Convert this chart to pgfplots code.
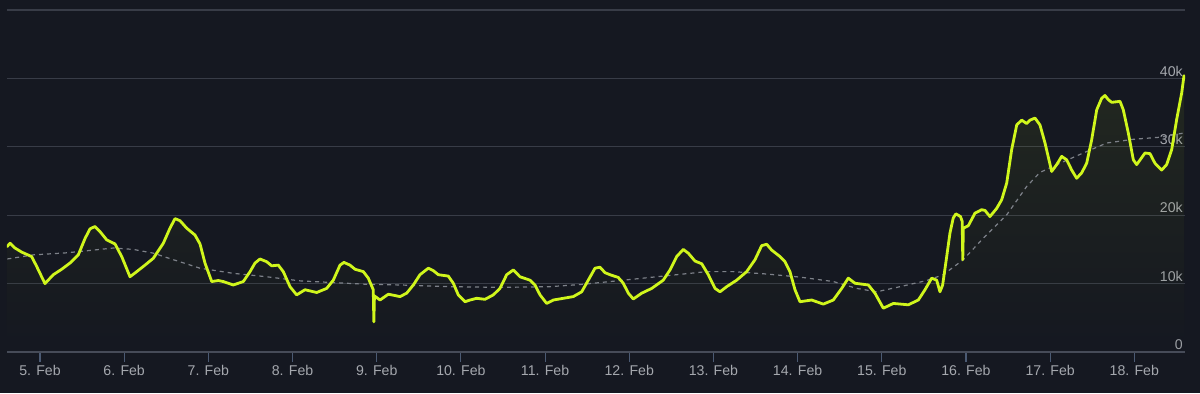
\documentclass[border=0pt]{standalone}
\usepackage{fontspec}
\setmainfont{Liberation Sans}
\usepackage{pgfplots}
\usepackage{pgfplotstable}
\pgfplotsset{compat=1.18}
\definecolor{bg}{RGB}{21,24,33}
\definecolor{gridc}{RGB}{56,60,71}
\definecolor{axisc}{RGB}{70,75,88}
\definecolor{tickc}{RGB}{75,90,115}
\definecolor{lbl}{RGB}{165,168,174}
\definecolor{lime}{RGB}{208,246,28}
\definecolor{avgc}{RGB}{125,129,137}

\pgfplotstableread{
x y
4.608 15.4
4.644 15.9
4.703 15.2
4.783 14.6
4.901 13.95
4.961 12.5
5.059 10.0
5.158 11.3
5.258 12.1
5.356 13.0
5.455 14.2
5.535 16.6
5.594 18.0
5.653 18.35
5.713 17.6
5.792 16.4
5.891 15.8
5.971 13.95
6.069 11.0
6.149 11.75
6.247 12.7
6.346 13.7
6.465 15.9
6.544 18.1
6.604 19.5
6.663 19.2
6.743 18.1
6.841 17.1
6.901 15.8
6.960 13.0
7.040 10.3
7.118 10.45
7.177 10.3
7.296 9.8
7.415 10.3
7.495 11.75
7.554 13.0
7.613 13.6
7.693 13.2
7.752 12.6
7.831 12.7
7.890 11.75
7.970 9.55
8.049 8.35
8.148 9.1
8.287 8.7
8.406 9.3
8.484 10.5
8.564 12.7
8.611 13.1
8.683 12.7
8.742 12.1
8.841 11.75
8.900 10.8
8.959 9.1
8.966 4.4
8.973 8.2
9.039 7.6
9.138 8.45
9.277 8.1
9.356 8.6
9.435 9.8
9.514 11.3
9.613 12.25
9.672 11.9
9.732 11.3
9.850 11.1
9.910 10.05
9.969 8.35
10.049 7.35
10.108 7.6
10.188 7.85
10.286 7.7
10.385 8.35
10.464 9.3
10.544 11.3
10.623 12.0
10.702 11.0
10.821 10.5
10.880 9.8
10.940 8.35
11.019 7.1
11.098 7.6
11.217 7.85
11.335 8.1
11.435 8.8
11.513 10.5
11.593 12.25
11.652 12.4
11.712 11.6
11.771 11.3
11.870 10.9
11.929 10.05
11.989 8.6
12.048 7.75
12.148 8.6
12.267 9.3
12.404 10.5
12.484 12.0
12.563 13.95
12.642 15.0
12.701 14.45
12.781 13.3
12.861 12.9
12.939 11.3
13.019 9.3
13.078 8.8
13.157 9.55
13.276 10.5
13.395 11.75
13.494 13.5
13.573 15.55
13.633 15.75
13.692 14.9
13.791 13.95
13.850 13.2
13.909 11.75
13.969 9.1
14.028 7.35
14.167 7.6
14.305 7.0
14.424 7.6
14.524 9.3
14.602 10.8
14.682 10.05
14.840 9.8
14.919 8.6
15.018 6.4
15.137 7.1
15.315 6.9
15.434 7.6
15.513 9.1
15.593 10.8
15.652 10.5
15.691 8.8
15.723 9.8
15.771 13.95
15.810 17.4
15.849 19.6
15.880 20.2
15.935 19.8
15.955 19.1
15.962 13.5
15.969 18.1
16.027 18.45
16.107 20.3
16.186 20.8
16.226 20.7
16.285 19.8
16.365 21.0
16.424 22.25
16.484 24.7
16.543 29.6
16.603 33.2
16.662 33.9
16.721 33.4
16.761 33.9
16.820 34.2
16.879 33.2
16.939 30.55
17.018 26.4
17.078 27.4
17.137 28.6
17.196 28.1
17.256 26.6
17.315 25.4
17.375 26.2
17.434 27.6
17.493 31.0
17.553 35.4
17.612 37.1
17.651 37.5
17.691 36.9
17.731 36.5
17.830 36.65
17.869 35.4
17.929 32.0
17.988 28.1
18.028 27.4
18.127 29.1
18.186 29.0
18.245 27.6
18.325 26.6
18.384 27.4
18.444 29.6
18.503 34.0
18.563 37.9
18.590 40.4
}\main

\pgfplotstableread{
x y
4.612 13.6
4.920 14.2
5.317 14.5
5.633 14.9
5.871 15.2
6.108 15.0
6.346 14.45
6.583 13.5
6.901 12.25
7.296 11.5
7.693 11.0
8.089 10.4
8.484 10.15
8.881 9.9
9.277 9.8
9.871 9.55
10.464 9.45
11.058 9.55
11.454 9.9
11.851 10.4
12.246 10.9
12.642 11.4
12.920 11.75
13.236 11.75
13.633 11.4
14.028 10.95
14.424 10.3
14.702 9.3
14.939 8.8
15.216 9.55
15.533 10.45
15.731 11.3
15.968 13.5
16.206 16.65
16.484 20.05
16.721 24.2
16.879 26.25
17.117 27.6
17.394 29.1
17.671 30.55
17.988 31.1
18.305 31.4
18.582 32.0
}\avg

\begin{document}
\begin{tikzpicture}
\fill[bg] (-5.25pt,-30.75pt) rectangle (894.75pt,264pt);
\useasboundingbox (-5.25pt,-30.75pt) rectangle (894.75pt,264pt);
\begin{axis}[
  at={(0,0)}, anchor=south west,
  scale only axis, width=883.5pt, height=256.5pt,
  xmin=4.608, xmax=18.602, ymin=0, ymax=50,
  axis line style={draw=none},
  xtick={5,...,18},
  xticklabels={5. Feb,6. Feb,7. Feb,8. Feb,9. Feb,10. Feb,11. Feb,12. Feb,13. Feb,14. Feb,15. Feb,16. Feb,17. Feb,18. Feb},
  xtick pos=bottom,
  tick align=outside,
  major tick length=7.5pt,
  xtick style={draw=tickc, line width=0.8pt},
  ytick={0,10,20,30,40,50},
  yticklabels={0,10k,20k,30k,40k,},
  ytick pos=right,
  ytick style={draw=none},
  ymajorgrids,
  grid style={draw=gridc, line width=0.8pt},
  ticklabel style={font=\fontsize{10.6}{12}\selectfont, text=lbl},
  xticklabel style={inner sep=2pt},
  yticklabel style={anchor=south east, inner sep=1.5pt, xshift=-7.5pt},
  clip=true,
]
\addplot[draw=none, top color=lime, bottom color=bg, fill opacity=0.075] table {\main} \closedcycle;
\addplot[avgc, line width=0.9pt, dash pattern=on 3pt off 3pt] table {\avg};
\addplot[lime, line width=2.1pt, line join=round, line cap=round] table {\main};
\draw[axisc, line width=0.9pt] (axis cs:4.608,0) -- (axis cs:18.602,0);
\end{axis}
\end{tikzpicture}
\end{document}
